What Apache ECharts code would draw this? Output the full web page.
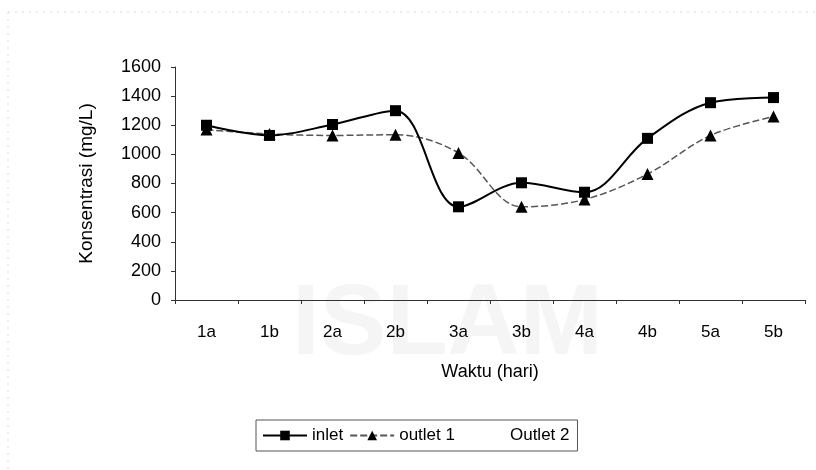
<!DOCTYPE html>
<html>
<head>
<meta charset="utf-8">
<script src="https://cdn.jsdelivr.net/npm/echarts@6/dist/echarts.min.js"></script>
<style>
  html, body { margin: 0; padding: 0; background: #fff; }
  #chart { width: 816px; height: 470px; }
</style>
</head>
<body>
<div id="chart"></div>
<script>
// data
var categories = ['1a', '1b', '2a', '2b', '3a', '3b', '4a', '4b', '5a', '5b']
var inlet = [1200, 1130, 1205, 1300, 640, 805, 740, 1110, 1355, 1390]
var outlet1 = [1170, 1140, 1130, 1135, 1010, 640, 690, 865, 1130, 1260]
var outlet2 = [] // not visible in the scan, only in the legend
var yTicks = { min: 0, max: 1600, step: 200 }

var chart = echarts.init(document.getElementById('chart'))
var font = 'Liberation Sans, Arial, sans-serif'

chart.setOption({
  animation: false,
  backgroundColor: '#fff',
  graphic: [
    {
      type: 'rect',
      z: -10,
      shape: { x: 8, y: 12, width: 830, height: 480 },
      style: { fill: 'none', stroke: '#dadada', lineWidth: 1, lineDash: [2, 5] }
    },
    {
      type: 'text',
      z: -10,
      left: 292,
      top: 276,
      style: {
        text: 'ISLAM',
        font: 'bold 100px ' + font,
        fill: '#f5f5f5'
      }
    }
  ],
  grid: {
    left: 175,
    right: 11,
    top: 67,
    bottom: 170
  },
  legend: {
    left: 256,
    top: 420,
    width: 312,
    padding: [7, 8, 7, 6],
    borderColor: '#555',
    borderWidth: 1,
    itemWidth: 44,
    itemHeight: 12,
    itemGap: 6,
    textStyle: { fontFamily: font, fontSize: 17, color: '#000' },
    data: [
      { name: 'inlet' },
      { name: 'outlet 1' },
      { name: 'Outlet 2', icon: 'none' }
    ]
  },
  xAxis: {
    type: 'category',
    data: categories,
    boundaryGap: true,
    name: 'Waktu (hari)',
    nameLocation: 'middle',
    nameGap: 63,
    nameTextStyle: { fontFamily: font, fontSize: 18, color: '#000' },
    axisLine: { lineStyle: { color: '#333', width: 1 } },
    axisTick: { show: true, length: 4, lineStyle: { color: '#333' } },
    axisLabel: { fontFamily: font, fontSize: 17, color: '#000', margin: 24 },
    splitLine: { show: false }
  },
  yAxis: {
    type: 'value',
    min: yTicks.min,
    max: yTicks.max,
    interval: yTicks.step,
    name: 'Konsentrasi (mg/L)',
    nameLocation: 'middle',
    nameGap: 79,
    nameTextStyle: { fontFamily: font, fontSize: 19, color: '#000' },
    axisLine: { show: true, lineStyle: { color: '#333', width: 1 } },
    axisTick: { show: true, length: 4, lineStyle: { color: '#333' } },
    axisLabel: {
      fontFamily: font,
      fontSize: 18,
      color: '#000',
      margin: 14,
      formatter: function (v) { return String(v) }
    },
    splitLine: { show: false }
  },
  series: [
    {
      name: 'inlet',
      type: 'line',
      data: inlet,
      smooth: 0.35,
      symbol: 'rect',
      symbolSize: 11,
      itemStyle: { color: '#000' },
      lineStyle: { color: '#000', width: 2 },
      z: 3
    },
    {
      name: 'outlet 1',
      type: 'line',
      data: outlet1,
      smooth: 0.35,
      symbol: 'triangle',
      symbolSize: 12,
      itemStyle: { color: '#000' },
      lineStyle: { color: '#555', width: 1.5, type: [7, 3] },
      z: 2
    },
    {
      name: 'Outlet 2',
      type: 'line',
      data: outlet2,
      symbol: 'none',
      itemStyle: { color: '#fff' },
      lineStyle: { color: '#fff', width: 0 }
    }
  ]
})
</script>
</body>
</html>
